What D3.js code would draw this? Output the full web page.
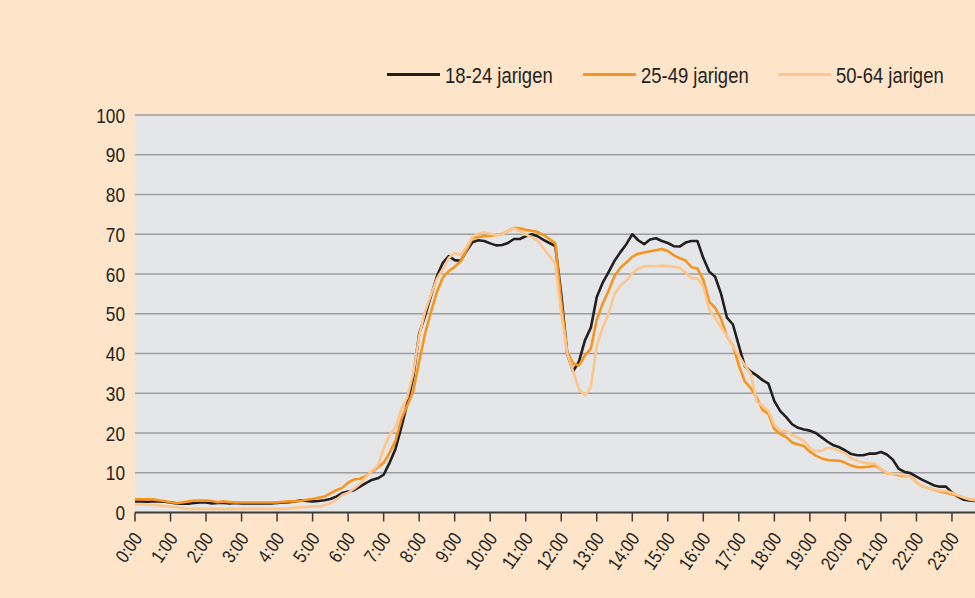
<!DOCTYPE html>
<html>
<head>
<meta charset="utf-8">
<script src="https://cdn.jsdelivr.net/npm/d3@7"></script>
<style>
  html, body { margin: 0; padding: 0; background: #fee4c9; }
  svg { display: block; }
  text { font-family: "Liberation Sans", Arial, sans-serif; fill: #231f20; }
</style>
</head>
<body>
<script>
// percentages per 10 minutes, 0:00 .. 23:50
var series = ["18-24 jarigen", "25-49 jarigen", "50-64 jarigen"];
var colors = ["#231f20", "#f7941e", "#fdc68c"];

var hourLabels = d3.range(0, 24).map(function(h) { return h + ":00"; });
var yTicks = [0, 10, 20, 30, 40, 50, 60, 70, 80, 90, 100];

var age18_24 = [
  2.8,2.8,2.7,2.8,2.8,2.7, 2.5,2.3,2.2,2.2,2.4,2.5, 2.5,2.3,2.4,2.4,2.3,2.4, 2.3,2.3,2.3,2.3,2.3,2.3,
  2.4,2.5,2.6,2.8,3.0,2.9, 2.8,2.9,3.1,3.4,4.0,4.9, 5.3,5.6,6.5,7.4,8.2,8.6, 9.5,12.5,16.0,21.5,27.5,34.0,
  45.0,49.5,54.5,59.4,62.8,64.5, 63.5,63.3,65.8,68.0,68.5,68.3, 67.7,67.2,67.3,67.8,68.8,68.8, 69.5,70.0,69.5,68.6,67.8,67.0,
  55.0,40.0,35.5,38.0,43.3,46.5, 54.2,57.8,60.5,63.3,65.5,67.5, 70.0,68.5,67.5,68.7,69.0,68.3, 67.8,67.0,66.9,67.9,68.3,68.3,
  64.0,60.6,59.3,55.0,49.0,47.3, 42.0,36.8,35.5,34.5,33.3,32.4, 28.0,25.5,24.0,22.2,21.3,20.9, 20.6,20.0,18.9,17.8,16.9,16.4,
  15.6,14.7,14.4,14.4,14.8,14.8, 15.2,14.6,13.3,11.0,10.2,9.9, 9.0,8.2,7.5,6.8,6.5,6.5, 5.0,4.0,3.2,3.0,2.9,2.8
];
var age25_49 = [
  3.3,3.3,3.3,3.3,3.1,2.9, 2.6,2.4,2.5,2.8,3.0,3.0, 3.0,2.9,2.6,2.8,2.6,2.5, 2.5,2.5,2.5,2.5,2.5,2.5,
  2.5,2.7,2.8,2.8,2.9,3.2, 3.4,3.7,4.0,4.8,5.6,6.2, 7.5,8.3,8.5,9.2,10.3,11.3, 12.5,15.0,18.0,23.5,27.0,30.5,
  38.0,45.0,50.5,55.5,59.1,60.7, 61.8,63.2,66.0,69.0,69.3,69.5, 69.6,69.8,70.1,70.8,71.6,71.5, 71.1,70.9,70.6,69.8,68.8,67.7,
  53.0,40.5,37.5,37.0,39.5,41.2, 48.5,52.5,55.8,59.5,61.6,62.9, 64.3,65.1,65.4,65.7,66.0,66.3, 65.8,64.7,64.0,63.4,61.7,61.4,
  58.5,53.0,51.5,48.7,44.3,42.0, 37.0,33.0,31.3,29.0,25.8,24.8, 21.0,19.7,19.0,17.6,17.1,16.7, 15.3,14.3,13.6,13.2,13.1,13.0,
  12.5,11.8,11.4,11.4,11.5,11.8, 10.9,9.9,9.7,9.4,9.2,9.1, 7.6,6.6,6.1,5.7,5.3,5.0, 4.6,4.2,3.7,3.3,3.1,3.0
];
var age50_64 = [
  2.0,2.0,2.0,1.9,1.8,1.6, 1.5,1.3,1.1,0.9,0.9,0.9, 0.9,0.9,0.9,0.9,0.9,0.9, 0.9,0.9,0.9,0.9,0.9,0.9,
  0.9,0.9,1.0,1.2,1.3,1.4, 1.5,1.5,1.8,2.3,3.2,4.4, 5.0,6.0,7.2,8.9,10.5,11.7, 16.0,19.5,21.4,26.0,29.0,35.0,
  44.5,50.5,54.8,58.8,61.3,64.0, 65.3,64.8,66.8,69.3,70.2,70.4, 70.1,69.8,70.0,70.8,71.5,70.8, 69.9,69.3,68.4,66.5,64.5,62.6,
  50.0,40.0,35.5,31.0,29.5,31.5, 42.0,46.5,50.0,55.0,57.1,58.3, 60.2,61.3,61.9,62.0,61.9,62.1, 62.0,61.8,61.6,60.3,59.0,58.9,
  56.8,51.0,49.0,46.5,44.5,41.8, 39.5,37.0,35.0,28.0,26.8,25.5, 22.0,20.6,20.4,19.5,18.8,18.0, 16.2,15.5,15.5,16.3,16.1,15.5,
  14.8,13.6,13.0,12.6,12.3,12.3, 11.0,10.0,9.7,9.7,9.3,8.9, 7.6,6.6,6.1,5.8,5.5,5.4, 4.9,4.4,3.8,3.3,3.1,3.0
];
var values = [age18_24, age25_49, age50_64];

var width = 975, height = 598;
var plotLeft = 135, plotRight = 975, plotTop = 115, plotBottom = 512.5;

var svg = d3.select("body").append("svg")
  .attr("width", width)
  .attr("height", height);

svg.append("rect")
  .attr("width", width).attr("height", height)
  .attr("fill", "#fee4c9");

var x = d3.scaleLinear().domain([0, 24]).range([plotLeft, plotLeft + 24 * 35.52]);
var y = d3.scaleLinear().domain([0, 100]).range([plotBottom, plotTop]);

svg.append("defs").append("clipPath").attr("id", "plotclip")
  .append("rect")
  .attr("x", plotLeft).attr("y", plotTop - 5)
  .attr("width", plotRight - plotLeft).attr("height", plotBottom - plotTop + 10);

svg.append("rect")
  .attr("x", plotLeft).attr("y", plotTop)
  .attr("width", plotRight - plotLeft).attr("height", plotBottom - plotTop)
  .attr("fill", "#e5e6e8");

// gridlines
svg.append("g")
  .selectAll("line")
  .data(yTicks.slice(1))
  .join("line")
  .attr("x1", plotLeft).attr("x2", plotRight)
  .attr("y1", function(d) { return y(d); })
  .attr("y2", function(d) { return y(d); })
  .attr("stroke", "#9d9d9f")
  .attr("stroke-width", 1.6);

// y labels (condensed by horizontal scaling)
svg.append("g")
  .selectAll("text")
  .data(yTicks)
  .join("text")
  .attr("transform", function(d) { return "translate(125," + y(d) + ") scale(0.82,1)"; })
  .attr("dy", "0.36em")
  .attr("text-anchor", "end")
  .style("font-size", "21px")
  .text(function(d) { return d; });

// x axis
var xAxis = svg.append("g").attr("transform", "translate(0," + plotBottom + ")");
xAxis.append("line")
  .attr("x1", plotLeft).attr("x2", plotRight)
  .attr("stroke", "#3a3a3a").attr("stroke-width", 2);
xAxis.selectAll("line.tick")
  .data(hourLabels)
  .join("line")
  .attr("class", "tick")
  .attr("x1", function(d, i) { return x(i); })
  .attr("x2", function(d, i) { return x(i); })
  .attr("y1", 0).attr("y2", 9)
  .attr("stroke", "#3a3a3a").attr("stroke-width", 1.5);
xAxis.selectAll("text")
  .data(hourLabels)
  .join("text")
  .attr("text-anchor", "end")
  .attr("transform", function(d, i) {
    return "translate(" + (x(i) + 8) + ",26) rotate(-55) scale(0.84,1)";
  })
  .style("font-size", "19px")
  .text(function(d) { return d; });

// lines
var line = d3.line()
  .x(function(d, i) { return x(i / 6); })
  .y(function(d) { return y(d); });

var plot = svg.append("g").attr("clip-path", "url(#plotclip)");
values.forEach(function(v, k) {
  plot.append("path")
    .datum(v)
    .attr("d", line)
    .attr("fill", "none")
    .attr("stroke", colors[k])
    .attr("stroke-width", 2.6)
    .attr("stroke-linejoin", "round");
});

// legend
var legendX = [387, 583, 778];
var legend = svg.append("g");
series.forEach(function(s, k) {
  legend.append("line")
    .attr("x1", legendX[k]).attr("x2", legendX[k] + 53)
    .attr("y1", 74.5).attr("y2", 74.5)
    .attr("stroke", colors[k]).attr("stroke-width", 3);
  legend.append("text")
    .attr("transform", "translate(" + (legendX[k] + 58) + ",82.5) scale(0.82,1)")
    .style("font-size", "22.5px")
    .text(s);
});
</script>
</body>
</html>
